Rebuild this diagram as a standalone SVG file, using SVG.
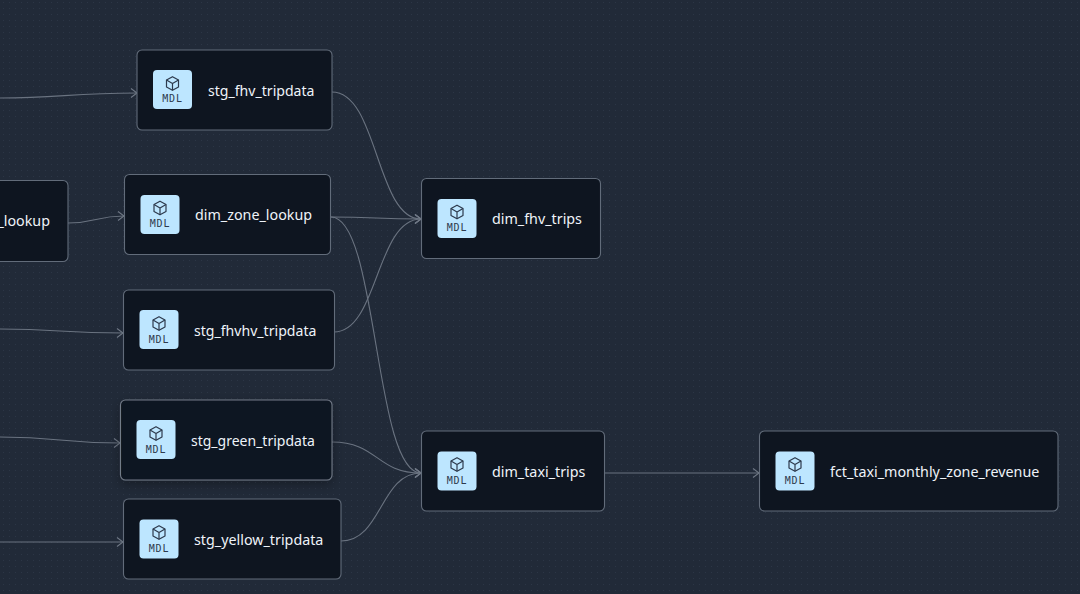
<svg xmlns="http://www.w3.org/2000/svg" width="1080" height="594" viewBox="0 0 1080 594">
<defs>
<pattern id="dots" width="6" height="6" patternUnits="userSpaceOnUse"><circle cx="3.500" cy="2.500" r="0.5" fill="#2f3a4a"/></pattern>
<marker id="arr" markerWidth="10" markerHeight="12" refX="8" refY="6" orient="auto" markerUnits="userSpaceOnUse"><path d="M2 1.500 L8 6 L2 10.500" fill="none" stroke="#6f7885" stroke-width="1.100"/></marker>
<filter id="sh" x="-10%" y="-20%" width="120%" height="150%"><feDropShadow dx="0" dy="4" stdDeviation="6" flood-color="#000" flood-opacity="0.3"/></filter>
<g id="cube" fill="none" stroke="#2d3a4d" stroke-width="1.200" stroke-linejoin="round"><path d="M0 -6.800 L6 -3.400 V3.400 L0 6.800 L-6 3.400 V-3.400 Z"/><path d="M-6 -3.400 L0 0 L6 -3.400 M0 0 V6.800"/></g>
</defs>
<style>
.n{fill:#0e1520;stroke:#626c7a;stroke-width:1.100}
.i{fill:#bde6ff}
.m{font:10px "DejaVu Sans Mono","Liberation Mono",monospace;fill:#2d3a4d;text-anchor:middle;letter-spacing:.8px}
.t{font:14.300px "Noto Sans","Open Sans",sans-serif;fill:#eef3f9}
.s{font-size:14.100px}
.g{font-size:14px}
.c{fill:none;stroke:#6a7380;stroke-width:1.100;marker-end:url(#arr)}
</style>
<rect width="1080" height="594" fill="#212a38"/>
<rect width="1080" height="594" fill="url(#dots)"/>
<g id="connectors">
<path class="c" d="M0 98 C60 98 70 93 137 93"/>
<path class="c" d="M68 223 C96 223 96 216 124 216"/>
<path class="c" d="M0 329 C60 329 60 333 123 333"/>
<path class="c" d="M0 437 C60 437 60 443 120 443"/>
<path class="c" d="M0 542 C60 542 60 542 123 542"/>
<path class="c" d="M332 92 C378 92 376 219 421 219"/>
<path class="c" d="M331 217 C376 217 376 219 421 219"/>
<path class="c" d="M334 332 C378 332 376 219 421 219"/>
<path class="c" d="M331 217 C378 217 374 473 421 473"/>
<path class="c" d="M332 442 C378 442 376 473 421 473"/>
<path class="c" d="M341 541 C382 541 380 473 421 473"/>
<path class="c" d="M604 473 H759"/>
</g>
<g id="n-zone-seed"><rect class="n" x="-100" y="180.500" width="168" height="81" rx="5"/><text class="t" x="50" y="226" text-anchor="end">_lookup</text></g>
<g id="n-stg-fhv"><rect class="n" x="137" y="50" width="195" height="80" rx="5"/><rect class="i" x="153" y="70" width="39" height="39" rx="4"/><use href="#cube" x="172.500" y="83.500"/><text class="m" x="172.500" y="102">MDL</text><text class="t s" x="208" y="96">stg_fhv_tripdata</text></g>
<g id="n-dim-zone"><rect class="n" x="124.500" y="174.500" width="206" height="80" rx="5"/><rect class="i" x="140.500" y="195" width="39" height="39" rx="4"/><use href="#cube" x="160" y="208"/><text class="m" x="160" y="227">MDL</text><text class="t" x="195" y="220">dim_zone_lookup</text></g>
<g id="n-stg-fhvhv"><rect class="n" x="123.500" y="290" width="211" height="80" rx="5"/><rect class="i" x="139.500" y="310" width="39" height="39" rx="4"/><use href="#cube" x="159" y="323.500"/><text class="m" x="159" y="342.500">MDL</text><text class="t s" x="194" y="336">stg_fhvhv_tripdata</text></g>
<g id="n-stg-green"><rect class="n" style="stroke:#727b88" filter="url(#sh)" x="120.500" y="400" width="211.500" height="80" rx="5"/><rect class="i" x="136.500" y="420" width="39" height="39" rx="4"/><use href="#cube" x="156" y="433.500"/><text class="m" x="156" y="452.500">MDL</text><text class="t g" x="191" y="446">stg_green_tripdata</text></g>
<g id="n-stg-yellow"><rect class="n" x="123.500" y="499" width="217.500" height="80" rx="5"/><rect class="i" x="139.500" y="519.500" width="39" height="39" rx="4"/><use href="#cube" x="159" y="532.500"/><text class="m" x="159" y="551.500">MDL</text><text class="t" x="194" y="545">stg_yellow_tripdata</text></g>
<g id="n-dim-fhv"><rect class="n" x="421.500" y="178.500" width="179" height="80" rx="5"/><rect class="i" x="437.500" y="199" width="39" height="39" rx="4"/><use href="#cube" x="457" y="212"/><text class="m" x="457" y="231">MDL</text><text class="t" x="492" y="224">dim_fhv_trips</text></g>
<g id="n-dim-taxi"><rect class="n" x="421.500" y="431" width="183" height="80" rx="5"/><rect class="i" x="437.500" y="451.500" width="39" height="39" rx="4"/><use href="#cube" x="457" y="464.500"/><text class="m" x="457" y="483.500">MDL</text><text class="t" x="492" y="477">dim_taxi_trips</text></g>
<g id="n-fct"><rect class="n" x="759.500" y="431" width="298.500" height="80" rx="5"/><rect class="i" x="775.500" y="451.500" width="39" height="39" rx="4"/><use href="#cube" x="795" y="464.500"/><text class="m" x="795" y="483.500">MDL</text><text class="t" x="830" y="477">fct_taxi_monthly_zone_revenue</text></g>
</svg>
